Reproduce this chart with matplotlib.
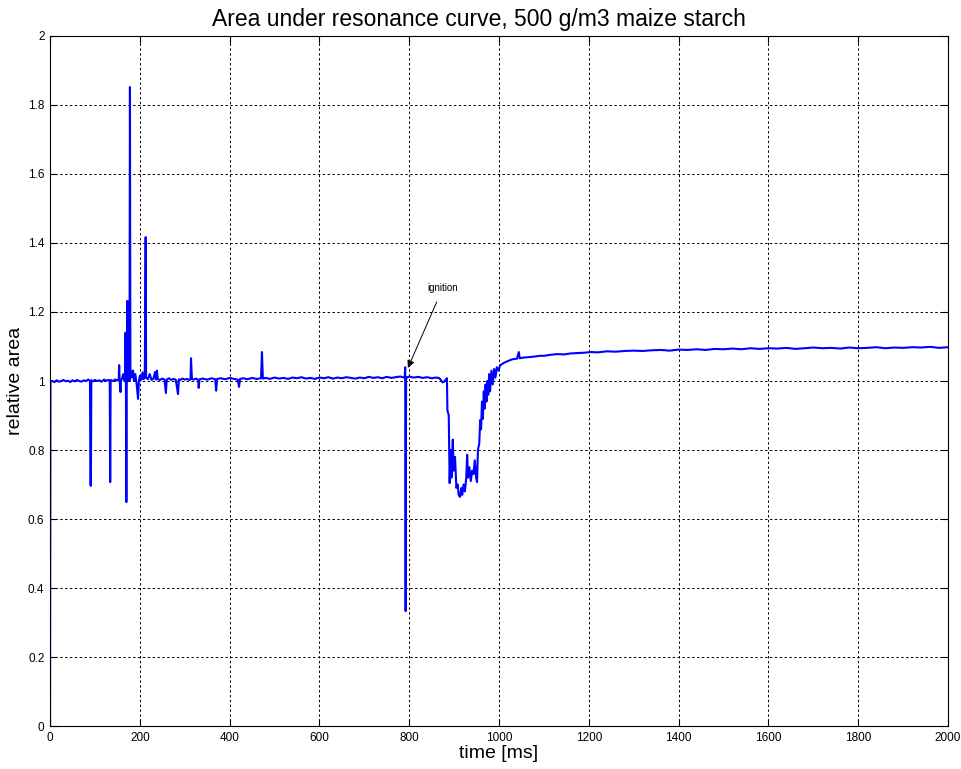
import numpy as np
import matplotlib.pyplot as plt

plt.rcParams['font.family'] = ['Liberation Sans', 'DejaVu Sans']

# time [ms] / relative area, piece by piece
t_start = [0, 1, 5, 10, 15, 20, 25, 30, 35, 40, 45, 50, 55, 60, 65, 70, 75, 80, 85, 89]
v_start = [0.0, 1.0, 1.0, 0.997, 1.002, 0.998, 1.0, 1.003, 0.999, 1.001, 0.997, 1.002,
           0.999, 1.003, 1.0, 0.998, 1.002, 1.0, 1.004, 1.001]

t_early = [90, 91, 92, 96, 100, 105, 110, 115, 120, 125, 130, 133, 134, 135, 140, 145, 150, 153]
v_early = [0.70, 0.696, 1.002, 0.999, 1.003, 1.0, 1.002, 0.998, 1.004, 1.001, 1.003, 1.0,
           0.707, 1.003, 1.0, 1.004, 1.002, 1.005]

t_burst = [154, 155, 157, 158, 160, 163, 165, 167, 168, 169, 170, 171, 172, 173, 174, 175, 176,
           177, 178, 179, 180, 182, 185, 187, 190, 193, 196, 198, 200, 203, 206, 208, 211, 213]
v_burst = [1.046, 1.0, 0.968, 1.0, 1.006, 1.02, 1.003, 1.01, 1.14, 1.0, 0.649, 1.03, 1.232,
           1.0, 1.23, 1.05, 1.12,
           1.0, 1.852, 1.02, 1.03, 1.01, 1.03, 1.0, 1.02, 0.99, 0.948, 1.0, 1.015, 1.003,
           1.025, 1.005, 1.01, 1.417]

t_pre = [214, 218, 222, 226, 230, 234, 236, 238, 240, 245, 250, 255, 258, 260, 265, 270, 275,
         280, 285, 287, 290, 295, 300, 305, 310, 313, 314, 316, 320, 325, 330, 331, 333, 340,
         350, 360, 368, 370, 372, 380, 390, 400, 410, 418, 421, 423, 430, 440, 450, 460, 470,
         472, 474, 480, 490, 500, 510, 520, 530, 540, 550, 560, 570, 580, 590, 600, 610, 620,
         630, 640, 650, 660, 670, 680, 690, 700, 710, 720, 730, 740, 750, 760, 770, 780, 788]
v_pre = [1.01, 1.005, 1.02, 1.003, 1.006, 1.026, 1.004, 1.03, 1.005, 1.003, 1.007, 1.004,
         0.965, 1.004, 1.008, 1.003, 1.006,
         1.004, 0.962, 1.005, 1.003, 1.007, 1.004, 1.006, 1.003, 1.005, 1.066, 1.006, 1.004,
         1.007, 1.003, 0.98, 1.005, 1.007,
         1.004, 1.008, 1.005, 0.972, 1.006, 1.008, 1.005, 1.009, 1.006, 1.004, 0.983, 1.006,
         1.008, 1.005, 1.009, 1.006, 1.008,
         1.084, 1.007, 1.009, 1.006, 1.01, 1.007, 1.009, 1.006, 1.01, 1.008, 1.011, 1.007,
         1.009, 1.006, 1.01, 1.008, 1.011,
         1.007, 1.01, 1.008, 1.011, 1.009, 1.007, 1.01, 1.008, 1.012, 1.009, 1.011, 1.008,
         1.012, 1.009, 1.011, 1.013, 1.01]

t_ign = [790, 791, 792, 793, 795, 800, 810, 820, 830, 840, 850, 860, 866, 870, 874, 878, 882]
v_ign = [1.011, 1.04, 0.333, 1.012, 1.01, 1.013, 1.01, 1.012, 1.009, 1.011, 1.008, 1.01,
         1.009, 1.004, 0.996, 0.998, 1.005]

t_dip = [884, 885, 888, 890, 892, 894, 897, 899, 902, 905, 908, 910, 913, 916, 918, 921, 924,
         927, 929, 931, 934, 937, 940, 943, 946, 949, 951, 953, 956, 958, 960, 962, 964, 966,
         968, 970, 972, 974, 976, 978, 980, 983, 986, 989, 992, 995, 999, 1002, 1010, 1020]
v_dip = [1.008, 0.916, 0.90, 0.704, 0.80, 0.72, 0.83, 0.74, 0.78, 0.69, 0.70, 0.67, 0.664,
         0.69, 0.67, 0.70, 0.68,
         0.72, 0.786, 0.72, 0.75, 0.71, 0.74, 0.73, 0.77, 0.72, 0.707, 0.80, 0.82, 0.887, 0.86,
         0.94, 0.89, 0.97,
         0.92, 0.99, 0.94, 1.0, 0.96, 1.02, 0.97, 1.03, 0.99, 1.035, 1.01, 1.04, 1.03, 1.045,
         1.052, 1.058]

t_late = [1030, 1040, 1044, 1046, 1055, 1065, 1080, 1090, 1100, 1115, 1130, 1145, 1160, 1175,
          1190, 1205, 1220] + list(range(1240, 2001, 20))
v_late = [1.063, 1.065, 1.084, 1.066, 1.068, 1.069, 1.071, 1.073, 1.073, 1.076, 1.078, 1.077,
          1.08, 1.081, 1.082, 1.084, 1.083,
          1.086, 1.085, 1.087, 1.088, 1.087, 1.089, 1.09, 1.088, 1.091, 1.09, 1.092, 1.09,
          1.093, 1.092, 1.094, 1.092, 1.095, 1.093, 1.095,
          1.094, 1.096, 1.093, 1.095, 1.097, 1.095, 1.096, 1.094, 1.097, 1.095, 1.096, 1.098,
          1.095, 1.097, 1.096, 1.098, 1.097, 1.099, 1.096, 1.098]

t_ms = t_start + t_early + t_burst + t_pre + t_ign + t_dip + t_late
area = v_start + v_early + v_burst + v_pre + v_ign + v_dip + v_late

fig = plt.figure(figsize=(9.62, 7.69), dpi=100)
ax = fig.add_axes([0.052, 0.0559, 0.9335, 0.8973])
ax.plot(t_ms, area, color='#0000ff', linewidth=1.5)

ax.set_xlim(0, 2000)
ax.set_ylim(0, 2)
ax.set_xticks(np.arange(0, 2001, 200))
ax.set_yticks(np.arange(0, 2.01, 0.2))
ax.set_yticklabels(['0', '0.2', '0.4', '0.6', '0.8', '1', '1.2', '1.4', '1.6', '1.8', '2'])
ax.tick_params(direction='in', top=True, right=True, labelsize=8.5, length=5, pad=4)
ax.grid(True, color='black', linestyle=(0, (2.5, 2.5)), linewidth=0.7)
for s in ax.spines.values():
    s.set_linewidth(0.8)

ax.set_title('Area under resonance curve, 500 g/m3 maize starch', fontsize=16.5, pad=7,
             x=0.478)
ax.set_xlabel('time [ms]', fontsize=14, labelpad=1)
ax.set_ylabel('relative area', fontsize=14, labelpad=3)

ax.annotate('ignition', xy=(797, 1.038), xytext=(875, 1.27), fontsize=7, ha='center',
            va='center',
            arrowprops=dict(arrowstyle='-|>', color='black', lw=0.7, mutation_scale=11,
                            shrinkA=5, shrinkB=0))

fig.savefig('out.png', dpi=100)
